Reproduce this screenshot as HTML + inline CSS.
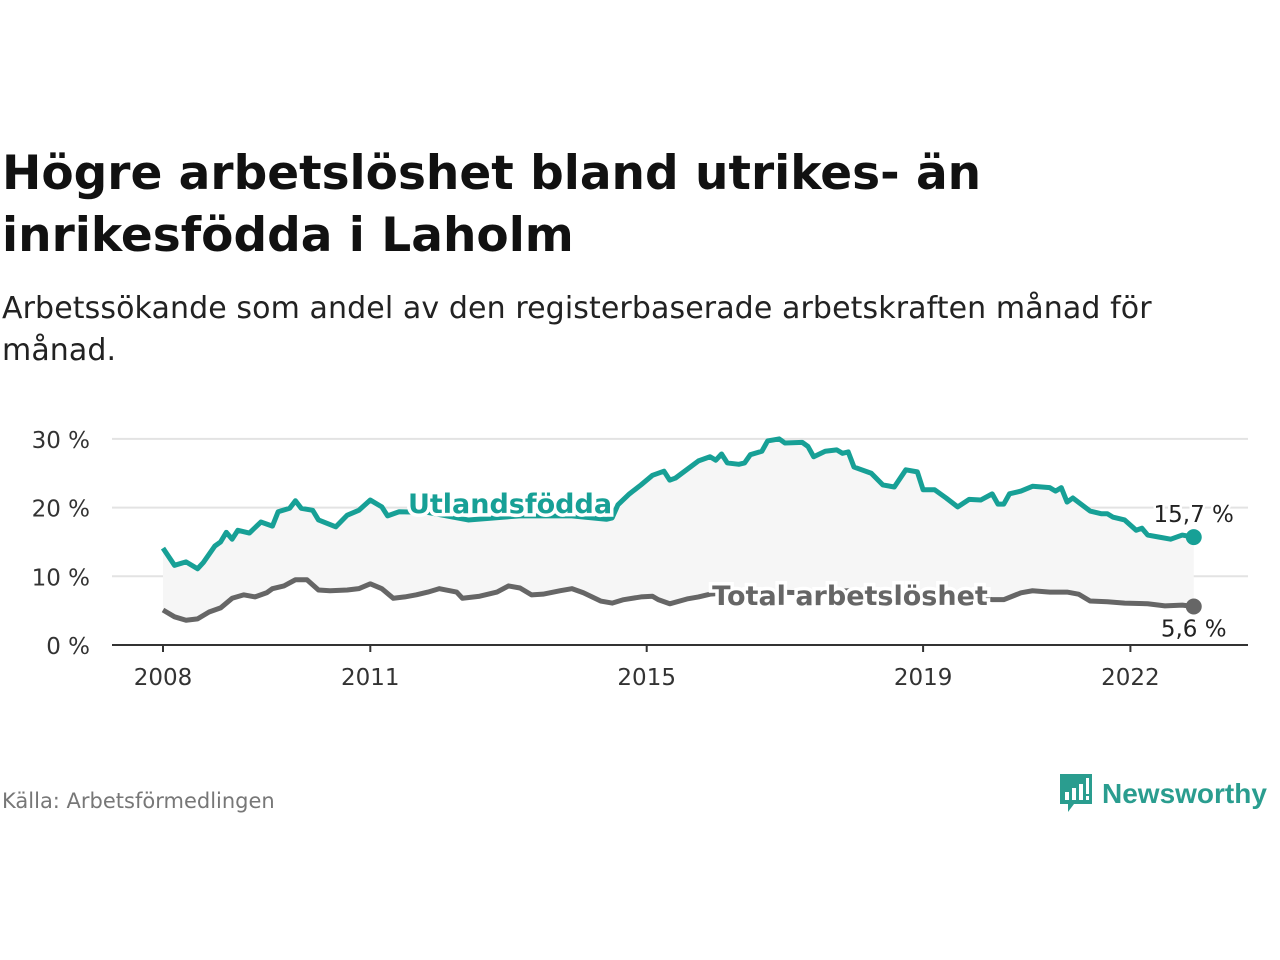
<!DOCTYPE html>
<html><head><meta charset="utf-8"><style>
body{margin:0;width:1280px;height:960px;background:#fff;font-family:"DejaVu Sans","Liberation Sans",sans-serif;position:relative;overflow:hidden}
.t{position:absolute;left:2px;top:143px;font-size:47px;font-weight:bold;color:#111;line-height:62px;margin:0}
.s{position:absolute;left:2px;top:288px;font-size:30px;letter-spacing:0.1px;color:#222;line-height:42px;width:1200px}
.src{position:absolute;left:2px;top:789px;font-size:21px;color:#777}
.logo{position:absolute;left:1058px;top:772px;display:flex;align-items:center}
.logo span{font-size:28px;font-weight:bold;color:#2a9d8f;margin-left:8px;font-family:"Liberation Sans",sans-serif}
</style></head><body>
<h1 class="t">Högre arbetslöshet bland utrikes- än inrikesfödda i Laholm</h1>
<div class="s">Arbetssökande som andel av den registerbaserade arbetskraften månad för månad.</div>
<svg id="c" width="1280" height="960" style="position:absolute;left:0;top:0"></svg>
<div class="src">Källa: Arbetsförmedlingen</div>
<div class="logo">
<svg width="36" height="44" viewBox="0 0 36 44"><path d="M2 2h32v30H16l-6 8v-8H2z" fill="#2a9d8f"/><rect x="7" y="20" width="4" height="8" fill="#fff"/><rect x="14" y="16" width="4" height="12" fill="#fff"/><rect x="21" y="12" width="4" height="16" fill="#fff"/><rect x="28" y="6" width="3" height="16" fill="#fff"/><rect x="28" y="24" width="3" height="4" fill="#fff"/></svg>
<span>Newsworthy</span></div>
<script>
const yTicks=[0,10,20,30];
const xTickYears=[2008,2011,2015,2019,2022];
const utlMonths=[0,2,4,6,7,9,10,11,12,13,15,17,19,20,22,23,24,26,27,30,32,34,36,38,39,41,46,53,62,71,77,78,79,81,83,85,87,88,89,93,95,96,97,98,100,101,102,104,105,107,108,111,112,113,115,117,118,119,120,123,125,127,129,131,132,134,136,138,140,142,144,145,146,147,149,151,154,155,156,157,158,161,163,164,165,167,169,170,171,173,175,177,179];
const utlValues=[14.1,11.6,12.1,11.1,12,14.4,15,16.4,15.4,16.7,16.3,17.9,17.3,19.4,19.9,21,19.9,19.6,18.2,17.2,18.9,19.6,21.1,20.1,18.8,19.4,19.3,18.2,18.8,18.8,18.3,18.5,20.4,22,23.3,24.7,25.3,24,24.3,26.8,27.4,26.9,27.8,26.5,26.3,26.5,27.7,28.2,29.7,30,29.4,29.5,28.9,27.4,28.2,28.4,27.9,28.1,25.9,25,23.3,23,25.5,25.2,22.6,22.6,21.4,20.1,21.2,21.1,22,20.5,20.5,22,22.4,23.1,22.9,22.4,22.9,20.8,21.4,19.5,19.1,19.1,18.6,18.2,16.7,17,16,15.7,15.4,16,15.7];
const totMonths=[0,2,4,6,8,10,12,14,16,18,19,21,23,25,27,29,32,34,36,38,40,42,44,46,48,51,52,55,58,60,62,64,66,69,71,73,76,78,80,83,85,86,88,91,93,95,102,111,119,128,137,144,146,149,151,154,157,159,161,164,167,171,174,177,179];
const totValues=[5.1,4.1,3.6,3.8,4.8,5.4,6.8,7.3,7,7.6,8.2,8.6,9.5,9.5,8,7.9,8,8.2,8.9,8.2,6.8,7,7.3,7.7,8.2,7.7,6.8,7.1,7.7,8.6,8.3,7.3,7.4,7.9,8.2,7.6,6.4,6.1,6.6,7,7.1,6.6,6,6.7,7,7.4,7.8,7.6,7.9,7.5,7.2,6.6,6.6,7.6,7.9,7.7,7.7,7.4,6.4,6.3,6.1,6,5.7,5.8,5.6];
const X=m=>163+m*69.1/12, Y=v=>645-v*6.87;
const svg=document.getElementById('c'),NS='http://www.w3.org/2000/svg';
function mk(t,a,txt){const e=document.createElementNS(NS,t);for(const k in a)e.setAttribute(k,a[k]);if(txt!=null)e.textContent=txt;svg.appendChild(e);return e;}
yTicks.forEach(v=>{
 const g=mk('line',{x1:112,x2:1248,y1:Y(v),y2:Y(v),stroke:v?'#e3e3e3':'#333','stroke-width':2});
 
 
 const t=mk('text',{x:90,y:Y(v)+9,'text-anchor':'end','font-size':23,fill:'#333'},v+' %');
 
 
});
xTickYears.forEach(y=>{
 const x=X((y-2008)*12);
 mk('line',{x1:x,x2:x,y1:645,y2:652,stroke:'#333','stroke-width':2});
 const t=mk('text',{x:x,y:685,'text-anchor':'middle','font-size':23,fill:'#333'},y);
 
 
});
const up=utlMonths.map((m,i)=>X(m)+','+Y(utlValues[i]));
const tp=totMonths.map((m,i)=>X(m)+','+Y(totValues[i]));
const area=mk('polygon',{points:up.concat(tp.slice().reverse()).join(' '),fill:'#f6f6f6'});


const l1=mk('polyline',{points:up.join(' '),fill:'none',stroke:'#17a096','stroke-width':5,'stroke-linejoin':'round'});


const l2=mk('polyline',{points:tp.join(' '),fill:'none',stroke:'#666','stroke-width':5,'stroke-linejoin':'round'});


const lu=utlMonths.length-1,lt=totMonths.length-1;
const d1=mk('circle',{cx:X(utlMonths[lu]),cy:Y(utlValues[lu]),r:8,fill:'#17a096'});


const d2=mk('circle',{cx:X(totMonths[lt]),cy:Y(totValues[lt]),r:8,fill:'#666'});


const e1=mk('text',{x:X(utlMonths[lu]),y:Y(utlValues[lu])-15,'text-anchor':'middle','font-size':23,fill:'#222',stroke:'#fff','stroke-width':5,'paint-order':'stroke'},String(utlValues[lu]).replace('.',',')+' %');


const e2=mk('text',{x:X(totMonths[lt]),y:Y(totValues[lt])+30,'text-anchor':'middle','font-size':23,fill:'#222',stroke:'#fff','stroke-width':5,'paint-order':'stroke'},String(totValues[lt]).replace('.',',')+' %');


const s1=mk('text',{x:510,y:513,'text-anchor':'middle','font-size':27,'font-weight':'bold',fill:'#17a096',stroke:'#fff','stroke-width':7,'paint-order':'stroke'},'Utlandsfödda');


const s2=mk('text',{x:850,y:605,'text-anchor':'middle','font-size':27,'font-weight':'bold',fill:'#666',stroke:'#fff','stroke-width':7,'paint-order':'stroke'},'Total arbetslöshet');


</script>
</body></html>
